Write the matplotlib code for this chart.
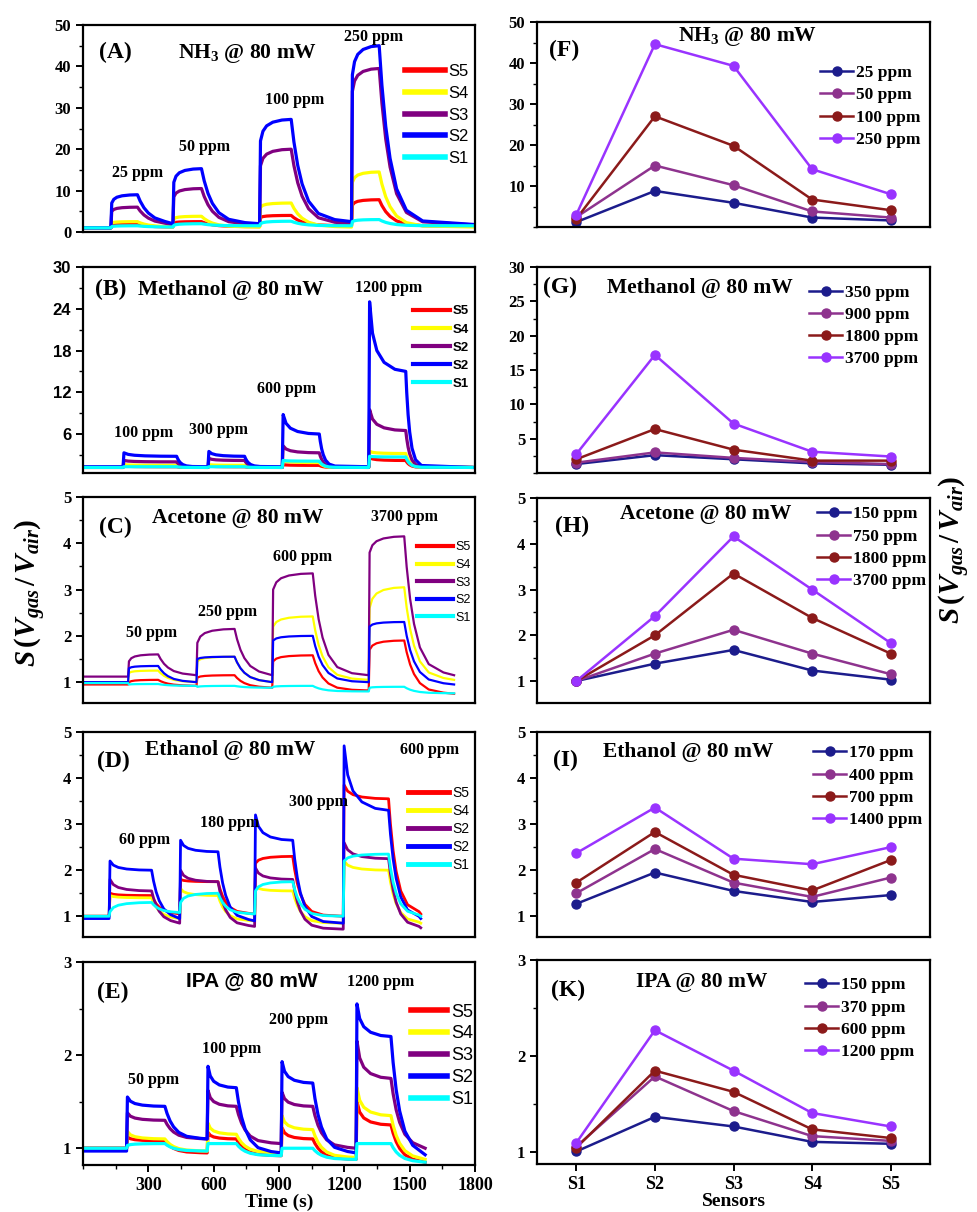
import matplotlib
matplotlib.use("Agg")
import matplotlib.pyplot as plt
from matplotlib.ticker import MultipleLocator, FixedLocator

plt.rcParams['mathtext.fontset'] = 'custom'
plt.rcParams['mathtext.rm'] = 'Liberation Serif:bold'
plt.rcParams['mathtext.it'] = 'Liberation Serif:bold:italic'
plt.rcParams['mathtext.bf'] = 'Liberation Serif:bold'

SERIF = 'Liberation Serif'
SANS = 'Liberation Sans'

# ---------------- data: left panels (time response) ----------------
SENSOR_ORDER = ['S5', 'S4', 'S3', 'S2', 'S1']
SENSOR_COLORS = ['#ff0000', '#ffff00', '#800080', '#0000ff', '#00ffff']

# (A) NH3
A_T_ON = [128, 413, 811, 1233]
A_T_OFF = [250, 544, 956, 1360]
A_T_END = 1800
A_BASE = [[1.0, 1.2, 1.3, 1.5, 1.4],
          [1.0, 1.2, 1.2, 1.2, 1.2],
          [1.0, 1.8, 1.8, 2.0, 1.7],
          [1.0, 2.0, 2.0, 2.5, 1.8],
          [1.0, 1.2, 1.5, 1.5, 1.5]]
A_JUMP = [[1.6, 2.2, 3.5, 6.5],
          [2.2, 3.2, 6.0, 12.0],
          [5.0, 8.5, 16.0, 34.0],
          [7.0, 12.0, 22.0, 38.0],
          [1.3, 1.6, 2.0, 2.5]]
A_END = [[1.8, 2.5, 4.0, 7.8],
         [2.5, 3.8, 7.0, 14.5],
         [6.0, 10.5, 20.0, 39.5],
         [9.0, 15.3, 27.2, 45.0],
         [1.5, 2.0, 2.6, 3.0]]

# (B) Methanol
B_T_ON = [184, 574, 915, 1312]
B_T_OFF = [430, 742, 1085, 1482]
B_T_END = 1787
B_BASE = [[1.2, 1.2, 1.2, 1.2, 1.2],
          [1.2, 1.2, 1.2, 1.2, 1.2],
          [1.2, 1.2, 1.2, 1.2, 1.2],
          [1.3, 1.3, 1.3, 1.3, 1.2],
          [1.2, 1.2, 1.2, 1.2, 1.2]]
B_JUMP = [[1.4, 1.4, 1.6, 2.6],
          [1.6, 1.6, 2.2, 3.5],
          [2.2, 2.5, 4.3, 9.5],
          [3.3, 3.5, 8.8, 25.0],
          [1.3, 1.3, 2.2, 2.8]]
B_END = [[1.3, 1.3, 1.5, 2.2],
         [1.5, 1.5, 1.9, 3.2],
         [2.0, 2.2, 3.3, 6.5],
         [2.8, 2.8, 6.0, 15.0],
         [1.3, 1.3, 2.1, 2.7]]

# (C) Acetone
C_T_ON = [207, 521, 869, 1312]
C_T_OFF = [345, 696, 1055, 1475]
C_T_END = 1704
C_BASE = [[0.95, 0.92, 0.88, 0.82, 0.75],
          [1.0, 1.0, 1.0, 1.05, 1.05],
          [1.12, 1.15, 1.15, 1.15, 1.15],
          [1.0, 1.0, 1.0, 1.0, 0.95],
          [0.98, 0.92, 0.88, 0.8, 0.76]]
C_JUMP = [[1.0, 1.1, 1.45, 1.7],
          [1.2, 1.45, 2.2, 2.6],
          [1.45, 1.85, 3.0, 3.8],
          [1.3, 1.5, 1.9, 2.2],
          [0.95, 0.9, 0.9, 0.88]]
C_END = [[1.05, 1.15, 1.58, 1.9],
         [1.25, 1.55, 2.42, 3.05],
         [1.6, 2.15, 3.35, 4.15],
         [1.35, 1.55, 2.0, 2.3],
         [0.96, 0.92, 0.92, 0.9]]

# (D) Ethanol
D_T_ON = [120, 444, 788, 1195]
D_T_OFF = [315, 620, 963, 1403]
D_T_END = 1551
D_BASE = [[1.0, 1.05, 1.05, 1.0, 1.05],
          [1.0, 0.95, 0.9, 0.85, 0.85],
          [1.0, 0.85, 0.78, 0.72, 0.75],
          [0.95, 0.95, 0.9, 0.85, 0.95],
          [1.0, 1.08, 1.05, 1.0, 1.0]]
D_JUMP = [[1.5, 1.8, 2.15, 3.85],
          [1.45, 1.6, 1.65, 2.2],
          [1.8, 2.0, 2.05, 2.6],
          [2.2, 2.65, 3.2, 4.7],
          [1.1, 1.3, 1.55, 2.2]]
D_END = [[1.45, 1.75, 2.3, 3.55],
         [1.4, 1.45, 1.55, 2.0],
         [1.55, 1.75, 1.8, 2.25],
         [2.0, 2.4, 2.65, 3.3],
         [1.3, 1.5, 1.75, 2.35]]

# (E) IPA
E_T_ON = [200, 570, 910, 1254]
E_T_OFF = [376, 704, 1055, 1414]
E_T_END = 1571
E_BASE = [[1.0, 0.95, 0.92, 0.88, 0.85],
          [1.0, 0.97, 0.95, 0.9, 0.88],
          [1.0, 1.1, 1.05, 1.0, 1.0],
          [0.97, 1.1, 0.95, 0.95, 0.93],
          [1.0, 0.97, 0.92, 0.88, 0.85]]
E_JUMP = [[1.12, 1.17, 1.22, 1.5],
          [1.18, 1.27, 1.35, 1.65],
          [1.38, 1.62, 1.6, 2.15],
          [1.55, 1.88, 1.93, 2.55],
          [1.03, 1.05, 1.0, 1.05]]
E_END = [[1.08, 1.1, 1.1, 1.25],
         [1.1, 1.15, 1.2, 1.35],
         [1.3, 1.45, 1.45, 1.75],
         [1.45, 1.65, 1.7, 2.2],
         [1.05, 1.05, 1.0, 1.05]]

# ---------------- data: right panels (sensor response) ----------------
SENSORS = ['S1', 'S2', 'S3', 'S4', 'S5']
CONC_COLORS = ['#1c1c8c', '#8e338e', '#8b1a1a', '#9933ff']

F_LABELS = ['25 ppm', '50 ppm', '100 ppm', '250 ppm']
F_VALUES = [[1.2, 8.8, 5.9, 2.3, 1.6],
            [2.4, 15.0, 10.2, 3.8, 2.3],
            [2.0, 27.0, 19.8, 6.7, 4.1],
            [3.0, 44.6, 39.3, 14.1, 8.0]]

G_LABELS = ['350 ppm', '900 ppm', '1800 ppm', '3700 ppm']
G_VALUES = [[1.3, 2.6, 2.0, 1.4, 1.2],
            [1.5, 3.0, 2.2, 1.6, 1.3],
            [2.0, 6.4, 3.4, 1.8, 1.8],
            [2.75, 17.2, 7.2, 3.1, 2.4]]

H_LABELS = ['150 ppm', '750 ppm', '1800 ppm', '3700 ppm']
H_VALUES = [[1.0, 1.38, 1.68, 1.23, 1.03],
            [1.0, 1.6, 2.12, 1.6, 1.15],
            [1.0, 2.0, 3.35, 2.38, 1.6],
            [1.0, 2.42, 4.16, 3.0, 1.83]]

I_LABELS = ['170 ppm', '400 ppm', '700 ppm', '1400 ppm']
I_VALUES = [[1.27, 1.95, 1.55, 1.31, 1.46],
            [1.5, 2.46, 1.73, 1.42, 1.84],
            [1.73, 2.83, 1.9, 1.56, 2.22],
            [2.37, 3.36, 2.25, 2.13, 2.5]]

K_LABELS = ['150 ppm', '370 ppm', '600 ppm', '1200 ppm']
K_VALUES = [[1.01, 1.37, 1.27, 1.11, 1.09],
            [1.06, 1.79, 1.43, 1.17, 1.12],
            [1.05, 1.85, 1.63, 1.24, 1.15],
            [1.1, 2.27, 1.85, 1.41, 1.27]]

# transition profile templates (shape only)
RISE_DT = 4.0
RISE_F = [0.08, 0.2, 0.4, 0.7, 1.0]
RISE_W = [0.45, 0.7, 0.87, 0.97, 1.0]
DECAY_F = [0.25, 0.6, 1.0, 1.6, 2.5, 4.0]
DECAY_W = [0.78, 0.55, 0.37, 0.2, 0.08, 0.02]


def build_curve(t_on, t_off, t_end, base, jump, end, tau):
    ts = [0.0]
    ys = [base[0]]
    for k in range(4):
        ts.append(t_on[k]); ys.append(base[k])
        dur = t_off[k] - t_on[k]
        ts.append(t_on[k] + RISE_DT); ys.append(jump[k])
        for f, w in zip(RISE_F, RISE_W):
            ts.append(t_on[k] + RISE_DT + f * (dur - RISE_DT))
            ys.append(jump[k] + w * (end[k] - jump[k]))
        nxt = t_on[k + 1] if k < 3 else t_end
        b = base[k + 1]
        for f, w in zip(DECAY_F, DECAY_W):
            tt = t_off[k] + f * tau
            if tt < nxt:
                ts.append(tt); ys.append(b + w * (end[k] - b))
    ts.append(t_end); ys.append(base[4])
    return ts, ys


W, H = 977, 1212
fig = plt.figure(figsize=(W / 100, H / 100), dpi=100)


def add_ax(x0, x1, top, bot):
    return fig.add_axes([x0 / W, 1 - bot / H, (x1 - x0) / W, (bot - top) / H])


def style_ax(ax, tickfont=SERIF, ysize=12):
    for s in ax.spines.values():
        s.set_linewidth(1.6)
    ax.tick_params(axis='both', which='major', direction='out', length=5, width=1.4)
    ax.tick_params(axis='both', which='minor', direction='out', length=3, width=1.0)
    ax.tick_params(axis='y', labelsize=ysize)
    for lab in ax.get_yticklabels() + ax.get_xticklabels():
        lab.set_fontfamily(tickfont)
        lab.set_fontweight('bold')


LX0, LX1 = 83, 475
RX0, RX1 = 537, 930
LEFT_ROWS = [(25, 232), (267, 473), (497, 703), (732, 937), (962, 1165)]
RIGHT_ROWS = [(22, 227), (267, 473), (498, 703), (732, 937), (960, 1164)]

left_specs = [
    dict(t_on=A_T_ON, t_off=A_T_OFF, t_end=A_T_END, base=A_BASE, jump=A_JUMP, end=A_END,
         tau=50, lw=2.3, ylim=(0, 50), yticks=[0, 10, 20, 30, 40, 50], yminor=5, tickfont=SERIF,
         tag='(A)', tag_xy=(0.04, 0.865), title='NH$_{\\mathrm{3}}$ @ 80 mW', title_xy=(0.42, 0.86),
         title_font=SERIF, title_size=15.5,
         ppm=[('25 ppm', 0.14, 0.285), ('50 ppm', 0.31, 0.41), ('100 ppm', 0.54, 0.64), ('250 ppm', 0.74, 0.94)],
         leg_labels=['S5', 'S4', 'S3', 'S2', 'S1'], leg_size=12, leg_weight='normal',
         leg_anchor=(0.985, 0.81), leg_spacing=0.4, leg_hl=2.4, leg_lw=4),
    dict(t_on=B_T_ON, t_off=B_T_OFF, t_end=B_T_END, base=B_BASE, jump=B_JUMP, end=B_END,
         tau=18, lw=2.3, ylim=(0.4, 30), yticks=[6, 12, 18, 24, 30], yminor=3, tickfont=SANS,
         tag='(B)', tag_xy=(0.03, 0.89), title='Methanol @ 80 mW', title_xy=(0.14, 0.89),
         title_font=SERIF, title_size=15.5, title_ha='left',
         ppm=[('100 ppm', 0.155, 0.195), ('300 ppm', 0.345, 0.21), ('600 ppm', 0.52, 0.41), ('1200 ppm', 0.78, 0.9)],
         leg_labels=['S5', 'S4', 'S2', 'S2', 'S1'], leg_size=9.5, leg_weight='bold',
         leg_anchor=(0.985, 0.815), leg_spacing=0.45, leg_hl=2.8, leg_lw=3),
    dict(t_on=C_T_ON, t_off=C_T_OFF, t_end=C_T_END, base=C_BASE, jump=C_JUMP, end=C_END,
         tau=45, lw=1.6, ylim=(0.55, 5), yticks=[1, 2, 3, 4, 5], yminor=0.5, tickfont=SERIF,
         tag='(C)', tag_xy=(0.04, 0.85), title='Acetone @ 80 mW', title_xy=(0.395, 0.9),
         title_font=SERIF, title_size=15.5,
         ppm=[('50 ppm', 0.175, 0.34), ('250 ppm', 0.37, 0.44), ('600 ppm', 0.56, 0.71), ('3700 ppm', 0.82, 0.905)],
         leg_labels=['S5', 'S4', 'S3', 'S2', 'S1'], leg_size=9, leg_weight='normal',
         leg_anchor=(0.99, 0.785), leg_spacing=0.45, leg_hl=2.9, leg_lw=3),
    dict(t_on=D_T_ON, t_off=D_T_OFF, t_end=D_T_END, base=D_BASE, jump=D_JUMP, end=D_END,
         tau=35, lw=2.0, ylim=(0.55, 5), yticks=[1, 2, 3, 4, 5], yminor=0.5, tickfont=SERIF,
         tag='(D)', tag_xy=(0.035, 0.855), title='Ethanol @ 80 mW', title_xy=(0.375, 0.91),
         title_font=SERIF, title_size=15.5,
         ppm=[('60 ppm', 0.158, 0.475), ('180 ppm', 0.375, 0.555), ('300 ppm', 0.6, 0.66), ('600 ppm', 0.885, 0.91)],
         leg_labels=['S5', 'S4', 'S2', 'S2', 'S1'], leg_size=10, leg_weight='normal',
         leg_anchor=(0.985, 0.735), leg_spacing=0.28, leg_hl=3.0, leg_lw=3.5),
    dict(t_on=E_T_ON, t_off=E_T_OFF, t_end=E_T_END, base=E_BASE, jump=E_JUMP, end=E_END,
         tau=40, lw=2.3, ylim=(0.82, 3), yticks=[1, 2, 3], yminor=0.5, tickfont=SERIF,
         tag='(E)', tag_xy=(0.035, 0.85), title='IPA @ 80 mW', title_xy=(0.43, 0.91),
         title_font=SANS, title_size=15,
         ppm=[('50 ppm', 0.18, 0.42), ('100 ppm', 0.38, 0.57), ('200 ppm', 0.55, 0.715), ('1200 ppm', 0.76, 0.9)],
         leg_labels=['S5', 'S4', 'S3', 'S2', 'S1'], leg_size=13, leg_weight='normal',
         leg_anchor=(0.995, 0.795), leg_spacing=0.27, leg_hl=2.0, leg_lw=4),
]

for i, sp in enumerate(left_specs):
    top, bot = LEFT_ROWS[i]
    ax = add_ax(LX0, LX1, top, bot)
    handles = []
    for j, name in enumerate(SENSOR_ORDER):
        ts, ys = build_curve(sp['t_on'], sp['t_off'], sp['t_end'], sp['base'][j],
                             sp['jump'][j], sp['end'][j], sp['tau'])
        h, = ax.plot(ts, ys, color=SENSOR_COLORS[j], lw=sp['lw'], solid_joinstyle='round')
        handles.append(h)
    ax.set_xlim(0, 1800)
    ax.set_ylim(*sp['ylim'])
    ax.yaxis.set_major_locator(FixedLocator(sp['yticks']))
    ax.yaxis.set_minor_locator(MultipleLocator(sp['yminor']))
    ax.xaxis.set_major_locator(FixedLocator([300, 600, 900, 1200, 1500, 1800]))
    ax.xaxis.set_minor_locator(MultipleLocator(150))
    if i < 4:
        ax.tick_params(axis='x', which='both', bottom=False, labelbottom=False)
    else:
        ax.tick_params(axis='x', labelsize=13)
        ax.set_xlabel('Time (s)', fontfamily=SERIF, fontweight='bold', fontsize=14, labelpad=0)
    style_ax(ax, sp['tickfont'])
    ax.text(sp['tag_xy'][0], sp['tag_xy'][1], sp['tag'], transform=ax.transAxes, ha='left',
            va='center', fontfamily=SERIF, fontweight='bold', fontsize=17)
    ax.text(sp['title_xy'][0], sp['title_xy'][1], sp['title'], transform=ax.transAxes,
            ha=sp.get('title_ha', 'center'), va='center', fontfamily=sp['title_font'],
            fontweight='bold', fontsize=sp['title_size'])
    for txt, xf, yf in sp['ppm']:
        ax.text(xf, yf, txt, transform=ax.transAxes, ha='center', va='center',
                fontfamily=SERIF, fontweight='bold', fontsize=11.5)
    leg = ax.legend(handles, sp['leg_labels'], loc='upper right', bbox_to_anchor=sp['leg_anchor'],
                    frameon=False, borderpad=0, borderaxespad=0, handlelength=sp['leg_hl'],
                    handletextpad=0.2, labelspacing=sp['leg_spacing'],
                    prop=dict(family=SANS, size=sp['leg_size'], weight=sp['leg_weight']))
    for lh in leg.get_lines():
        lh.set_linewidth(sp['leg_lw'])

right_specs = [
    dict(vals=F_VALUES, labels=F_LABELS, ylim=(0, 50), yticks=[10, 20, 30, 40, 50], yminor=5,
         tag='(F)', tag_xy=(0.03, 0.86), title='NH$_{\\mathrm{3}}$ @ 80 mW', title_xy=(0.535, 0.93),
         leg_anchor=(0.975, 0.79)),
    dict(vals=G_VALUES, labels=G_LABELS, ylim=(0, 30), yticks=[5, 10, 15, 20, 25, 30], yminor=2.5,
         tag='(G)', tag_xy=(0.015, 0.9), title='Methanol @ 80 mW', title_xy=(0.415, 0.9),
         leg_anchor=(0.97, 0.915)),
    dict(vals=H_VALUES, labels=H_LABELS, ylim=(0.52, 5), yticks=[1, 2, 3, 4, 5], yminor=0.5,
         tag='(H)', tag_xy=(0.045, 0.86), title='Acetone @ 80 mW', title_xy=(0.43, 0.92),
         leg_anchor=(0.99, 0.96)),
    dict(vals=I_VALUES, labels=I_LABELS, ylim=(0.55, 5), yticks=[1, 2, 3, 4, 5], yminor=0.5,
         tag='(I)', tag_xy=(0.04, 0.86), title='Ethanol @ 80 mW', title_xy=(0.385, 0.9),
         leg_anchor=(0.98, 0.935)),
    dict(vals=K_VALUES, labels=K_LABELS, ylim=(0.88, 3), yticks=[1, 2, 3], yminor=0.5,
         tag='(K)', tag_xy=(0.035, 0.85), title='IPA @ 80 mW', title_xy=(0.42, 0.89),
         leg_anchor=(0.96, 0.915)),
]

xs = list(range(1, len(SENSORS) + 1))
for i, sp in enumerate(right_specs):
    top, bot = RIGHT_ROWS[i]
    ax = add_ax(RX0, RX1, top, bot)
    for j, (lab, vals) in enumerate(zip(sp['labels'], sp['vals'])):
        ax.plot(xs, vals, color=CONC_COLORS[j], lw=1.8, marker='o', markersize=6.5,
                markeredgewidth=1.0, markeredgecolor=CONC_COLORS[j], label=lab)
    ax.set_xlim(0.5, 5.5)
    ax.set_ylim(*sp['ylim'])
    ax.yaxis.set_major_locator(FixedLocator(sp['yticks']))
    ax.yaxis.set_minor_locator(MultipleLocator(sp['yminor']))
    ax.set_xticks(xs)
    ax.set_xticklabels(SENSORS)
    if i < 4:
        ax.tick_params(axis='x', which='both', bottom=False, labelbottom=False)
    else:
        ax.tick_params(axis='x', labelsize=13)
        ax.set_xlabel('Sensors', fontfamily=SERIF, fontweight='bold', fontsize=14, labelpad=0)
    style_ax(ax, SERIF)
    ax.text(sp['tag_xy'][0], sp['tag_xy'][1], sp['tag'], transform=ax.transAxes, ha='left',
            va='center', fontfamily=SERIF, fontweight='bold', fontsize=17)
    ax.text(sp['title_xy'][0], sp['title_xy'][1], sp['title'], transform=ax.transAxes,
            ha='center', va='center', fontfamily=SERIF, fontweight='bold', fontsize=15.5)
    ax.legend(loc='upper right', bbox_to_anchor=sp['leg_anchor'], frameon=False, borderpad=0,
              borderaxespad=0, handlelength=1.9, handletextpad=0.15, labelspacing=0.35,
              prop=dict(family=SERIF, size=12.5, weight='bold'))

fig.text(30 / W, 1 - 593 / H, r'$S\,(V_{gas}\,/\,V_{air})$', rotation=90, ha='center', va='center',
         fontsize=21)
fig.text(955 / W, 1 - 550 / H, r'$S\,(V_{gas}\,/\,V_{air})$', rotation=90, ha='center', va='center',
         fontsize=21)

fig.savefig('out.png', dpi=100)
